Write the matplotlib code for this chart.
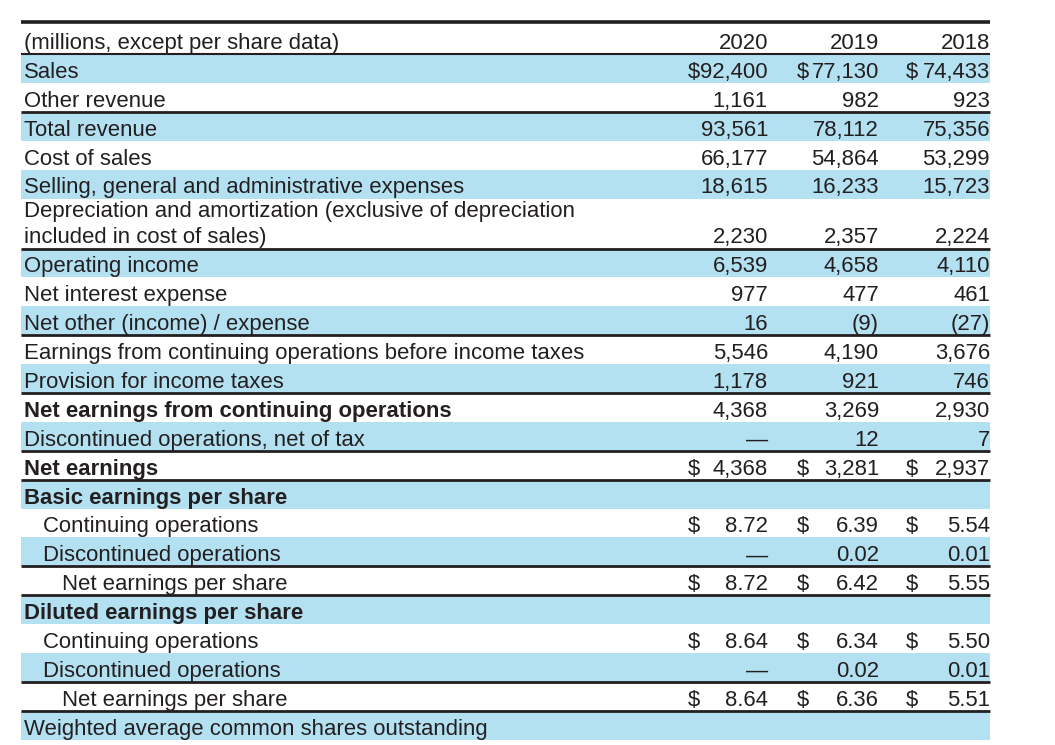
import numpy as np
import matplotlib
matplotlib.use("Agg")
import matplotlib.pyplot as plt

plt.rcParams['font.family'] = ['Liberation Sans', 'DejaVu Sans']

# ---- table data ----
years = ["2020", "2019", "2018"]
header_label = "(millions, except per share data)"

labels = [
    "Sales",
    "Other revenue",
    "Total revenue",
    "Cost of sales",
    "Selling, general and administrative expenses",
    "Depreciation and amortization (exclusive of depreciation\nincluded in cost of sales)",
    "Operating income",
    "Net interest expense",
    "Net other (income) / expense",
    "Earnings from continuing operations before income taxes",
    "Provision for income taxes",
    "Net earnings from continuing operations",
    "Discontinued operations, net of tax",
    "Net earnings",
    "Basic earnings per share",
    "Continuing operations",
    "Discontinued operations",
    "Net earnings per share",
    "Diluted earnings per share",
    "Continuing operations",
    "Discontinued operations",
    "Net earnings per share",
    "Weighted average common shares outstanding",
]

vals_2020 = ["92,400", "1,161", "93,561", "66,177", "18,615", "2,230", "6,539", "977", "16",
             "5,546", "1,178", "4,368", "—", "4,368", "", "8.72", "—", "8.72", "", "8.64", "—", "8.64", ""]
vals_2019 = ["77,130", "982", "78,112", "54,864", "16,233", "2,357", "4,658", "477", "(9)",
             "4,190", "921", "3,269", "12", "3,281", "", "6.39", "0.02", "6.42", "", "6.34", "0.02", "6.36", ""]
vals_2018 = ["74,433", "923", "75,356", "53,299", "15,723", "2,224", "4,110", "461", "(27)",
             "3,676", "746", "2,930", "7", "2,937", "", "5.54", "0.01", "5.55", "", "5.50", "0.01", "5.51", ""]

dollar_rows = [0, 13, 15, 17, 19, 21]
bold_rows = [11, 13, 14, 18]
indent = {15: 1, 16: 1, 17: 2, 19: 1, 20: 1, 21: 2}
blue_rows = [0, 2, 4, 6, 8, 10, 12, 14, 16, 18, 20, 22]
rule_after = [1, 5, 8, 10, 12, 13, 16, 17, 20, 21]

# ---- layout ----
W, H = 1055, 745
blue = "#b3e1f2"
ink = "#231f20"
x0, x1 = 21, 990
top = 22
head_bottom = 54
row_h = 28.9
col_right = [768, 879, 990]
col_dollar = [688, 797, 906]
fs = 15.9

heights = [50 if "\n" in s else row_h for s in labels]
bottoms = head_bottom + np.cumsum(heights)
tops = bottoms - np.array(heights)

fig = plt.figure(figsize=(W / 100, H / 100), dpi=100)
ax = fig.add_axes([0, 0, 1, 1])
ax.set_xlim(0, W)
ax.set_ylim(H, 0)
ax.axis("off")

# shaded rows
bi = np.array(blue_rows)
ax.barh((tops[bi] + bottoms[bi]) / 2, x1 - x0, left=x0, height=np.array(heights)[bi],
        color=blue, linewidth=0, zorder=1)

# rules
ax.hlines(top, x0, x1, color=ink, linewidth=2.6, zorder=3)
ax.hlines(head_bottom, x0, x1, color=ink, linewidth=1.5, zorder=3)
ax.hlines(bottoms[rule_after], x0, x1, color=ink, linewidth=2.0, zorder=3)

# header
ax.text(24, head_bottom - 5, header_label, fontsize=fs, color=ink, va="baseline", ha="left")
for yr, xr in zip(years, col_right):
    ax.text(xr, head_bottom - 5, yr, fontsize=fs, color=ink, va="baseline", ha="right")

# rows
cols = [vals_2020, vals_2019, vals_2018]
for i, lab in enumerate(labels):
    base = bottoms[i] - 5
    weight = "bold" if i in bold_rows else "normal"
    lx = 24 + 19 * indent.get(i, 0)
    lines = lab.split("\n")
    for k, ln in enumerate(lines):
        ax.text(lx, base - 26 * (len(lines) - 1 - k), ln, fontsize=fs, color=ink,
                va="baseline", ha="left", fontweight=weight)
    for c, vals in enumerate(cols):
        v = vals[i]
        if not v:
            continue
        ax.text(col_right[c], base, v, fontsize=fs, color=ink, va="baseline", ha="right")
        if i in dollar_rows:
            ax.text(col_dollar[c], base, "$", fontsize=fs, color=ink, va="baseline", ha="left")

fig.savefig("out.png", dpi=100)
